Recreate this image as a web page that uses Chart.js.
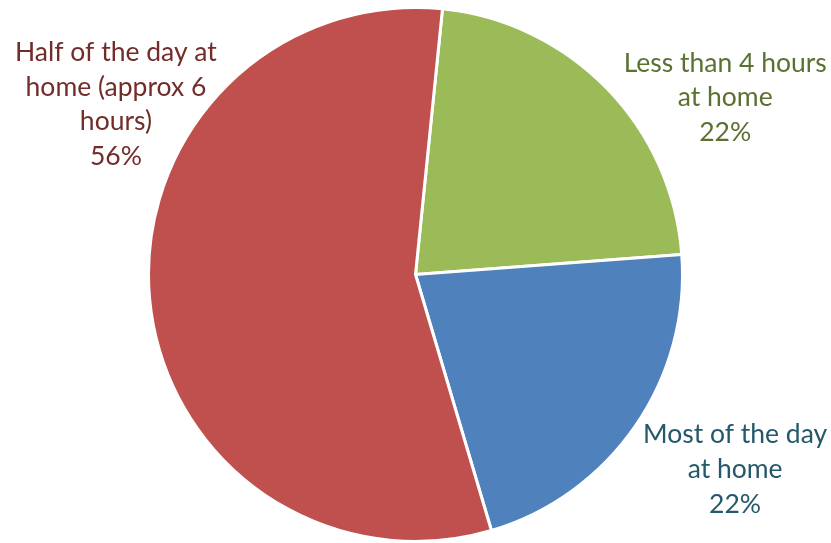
<!DOCTYPE html>
<html>
<head>
<meta charset="utf-8">
<script src="https://cdn.jsdelivr.net/npm/chart.js@4.4.0/dist/chart.umd.min.js"></script>
<style>
  html, body { margin: 0; padding: 0; background: #ffffff; }
  #wrap { width: 831px; height: 543px; position: relative; }
</style>
</head>
<body>
<div id="wrap"><canvas id="myChart"></canvas></div>
<script>
// slices, clockwise from the top
var categories = ['Less than 4 hours at home', 'Most of the day at home', 'Half of the day at home (approx 6 hours)']
var shares = [22.2, 21.6, 56.2]
// how each label is broken into lines (percent is added below)
var labelLines = [
    ['Less than 4 hours', 'at home'],
    ['Most of the day', 'at home'],
    ['Half of the day at', 'home (approx 6', 'hours)']
]

var fills = ['#9bbb59', '#4f81bd', '#c0504d']
var textColors = ['#5b7131', '#24596b', '#722d2b']
// label anchor: offset of first baseline from pie centre, in radii
var labelSpots = [[1.16, -0.76], [1.197, 0.632], [-1.122, -0.80]]

const labelPlugin = {
    id: 'outsideLabels',
    afterDraw: chart => {
        let ctx = chart.ctx
        let arc = chart.getDatasetMeta(0).data[0]
        let cx = arc.x, cy = arc.y, r = arc.outerRadius
        ctx.save()
        ctx.font = '26.5px Lato'
        ctx.textAlign = 'center'
        ctx.textBaseline = 'alphabetic'
        for (let i = 0; i < shares.length; i++) {
            let lines = labelLines[i].concat([Math.round(shares[i]) + '%'])
            let x = cx + labelSpots[i][0] * r
            let y = cy + labelSpots[i][1] * r
            ctx.fillStyle = textColors[i]
            for (let j = 0; j < lines.length; j++) {
                ctx.fillText(lines[j], x, y + j * 34.7)
            }
        }
        ctx.restore()
    }
}

new Chart(document.getElementById('myChart'), {
    type: 'pie',
    data: {
        labels: categories,
        datasets: [{
            data: shares,
            backgroundColor: fills,
            borderColor: '#ffffff',
            borderWidth: 3
        }]
    },
    options: {
        responsive: true,
        maintainAspectRatio: false,
        animation: false,
        rotation: 5.8,
        layout: { padding: { top: 6, bottom: 0 } },
        plugins: {
            legend: { display: false },
            tooltip: { enabled: false }
        }
    },
    plugins: [labelPlugin]
})
</script>
</body>
</html>
